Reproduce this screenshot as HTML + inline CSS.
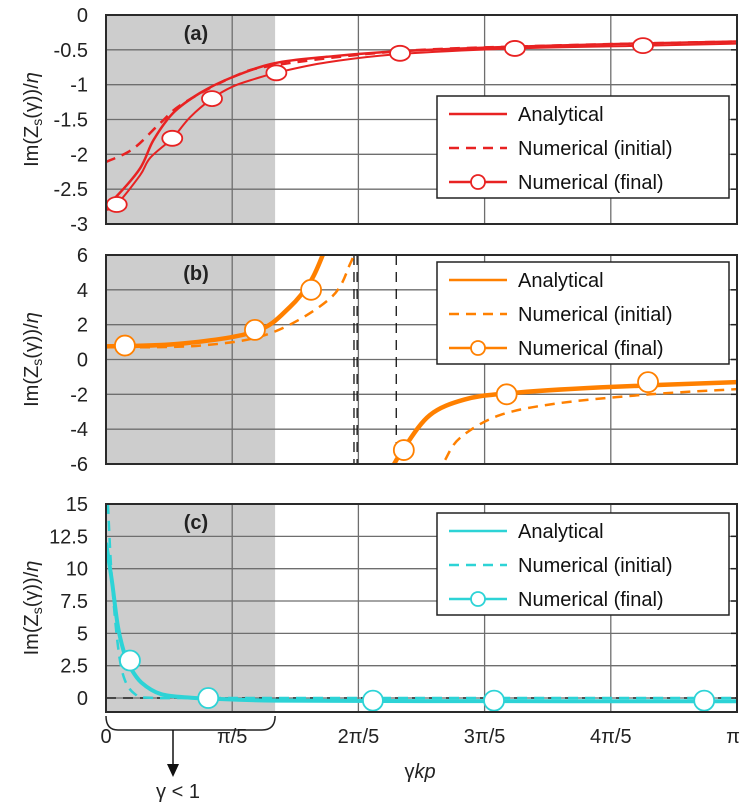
<!DOCTYPE html>
<html><head><meta charset="utf-8"><style>
body{margin:0;background:#fff;}
svg{display:block;font-family:"Liberation Sans",sans-serif;}
</style></head><body>
<svg id="chart" width="747" height="804" viewBox="0 0 747 804"></svg>
<script>
// x in units of pi (0..1)
const xTicks = [0,0.2,0.4,0.6,0.8,1];
const xTickLabels = ["0","π/5","2π/5","3π/5","4π/5","π"];
const shadeEnd = 0.268;

// Panel (a)
const aAnaX = [0,0.017,0.054,0.075,0.106,0.149,0.201,0.268,0.35,0.466,0.7,1];
const aAnaY = [-2.72,-2.6,-2.2,-1.8,-1.41,-1.12,-0.89,-0.69,-0.6,-0.52,-0.44,-0.38];
const aIniX = [0,0.043,0.086,0.122,0.201,0.268,0.466,0.7,1];
const aIniY = [-2.11,-1.92,-1.55,-1.27,-0.89,-0.72,-0.52,-0.44,-0.38];
const aFinX = [0,0.017,0.054,0.07,0.105,0.133,0.168,0.2,0.235,0.27,0.35,0.466,0.648,0.851,1];
const aFinY = [-2.8,-2.72,-2.3,-2.05,-1.77,-1.47,-1.2,-1.03,-0.92,-0.83,-0.68,-0.56,-0.48,-0.44,-0.41];
const aMarkX = [0.017,0.105,0.168,0.27,0.466,0.648,0.851];
const aMarkY = [-2.72,-1.77,-1.2,-0.83,-0.55,-0.48,-0.44];

// Panel (b)
const bAna1X = [0,0.117,0.236,0.291,0.326,0.35];
const bAna1Y = [0.75,0.9,1.6,3.0,4.6,6.6];
const bIni1X = [0,0.149,0.26,0.355,0.387,0.395];
const bIni1Y = [0.7,0.8,1.5,3.5,5.5,6.4];
const bAna2X = [0.452,0.472,0.513,0.568,0.635,0.783,1];
const bAna2Y = [-6.3,-5.1,-3.2,-2.3,-1.95,-1.6,-1.3];
const bIni2X = [0.52,0.535,0.561,0.624,0.72,0.862,1];
const bIni2Y = [-6.5,-5.9,-4.5,-3.2,-2.5,-2.0,-1.7];
const bMarkX = [0.03,0.236,0.325,0.472,0.635,0.859];
const bMarkY = [0.8,1.7,4.0,-5.2,-2.0,-1.3];
const bAsymX = [0.393,0.398,0.46];

// Panel (c)
const cAnaX = [0,0.0095,0.019,0.03,0.038,0.056,0.087,0.135,0.168,0.268,0.5,1];
const cAnaY = [12,9,5.5,3.3,2.4,1.2,0.3,0.02,-0.05,-0.2,-0.24,-0.25];
const cIniX = [0.003,0.0095,0.019,0.029,0.046,0.07,0.2,1];
const cIniY = [15,9,4,1.5,0.3,0.02,0,0];
const cMarkX = [0.038,0.162,0.423,0.615,0.948];
const cMarkY = [2.9,0.0,-0.2,-0.2,-0.2];

const NS="http://www.w3.org/2000/svg";
const svg=document.getElementById('chart');
const L=106,R=737;
function xs(t){return L+t*(R-L);}
function mk(tag,attrs,parent){const e=document.createElementNS(NS,tag);for(const k in attrs)e.setAttribute(k,attrs[k]);(parent||svg).appendChild(e);return e;}
function smooth(px,py){
  let d="M"+px[0].toFixed(1)+","+py[0].toFixed(1);
  for(let i=0;i<px.length-1;i++){
    const x0=px[Math.max(i-1,0)],y0=py[Math.max(i-1,0)],x1=px[i],y1=py[i],x2=px[i+1],y2=py[i+1],x3=px[Math.min(i+2,px.length-1)],y3=py[Math.min(i+2,px.length-1)];
    const c1x=x1+(x2-x0)/6,c1y=y1+(y2-y0)/6,c2x=x2-(x3-x1)/6,c2y=y2-(y3-y1)/6;
    d+=" C"+c1x.toFixed(1)+","+c1y.toFixed(1)+" "+c2x.toFixed(1)+","+c2y.toFixed(1)+" "+x2.toFixed(1)+","+y2.toFixed(1);
  }
  return d;
}
const defs=mk('defs',{});
function panel(id,top,bot,ymin,ymax,yticks,ylabels,letter,color,draw){
  const g=mk('g',{});
  
  
  const ys=v=>bot-(v-ymin)/(ymax-ymin)*(bot-top);
  const cp=mk('clipPath',{id:'clip'+id},defs);
  mk('rect',{x:L,y:top,width:R-L,height:bot-top},cp);
  const sh=mk('rect',{x:L,y:top,width:xs(shadeEnd)-L,height:bot-top,fill:'#cdcdcd'},g);
  
  
  for(let i=1;i<xTicks.length-1;i++){
    const ln=mk('line',{x1:xs(xTicks[i]),x2:xs(xTicks[i]),y1:top,y2:bot,stroke:'#6e6e6e','stroke-width':1.3},g);
    
    
  }
  for(let i=0;i<yticks.length;i++){
    const y=ys(yticks[i]);
    if(i>0&&i<yticks.length-1){
      const ln=mk('line',{x1:L,x2:R,y1:y,y2:y,stroke:'#6e6e6e','stroke-width':1.3},g);
      
      
      mk('line',{x1:R-6,x2:R,y1:y,y2:y,stroke:'#222','stroke-width':1.5},g);
    }
    const t=mk('text',{x:88,y:y+7,'text-anchor':'end','font-size':20,fill:'#222'},g);
    t.textContent=ylabels[i];
    
    
  }
  const yt=mk('text',{transform:`translate(38,${(top+bot)/2}) rotate(-90)`,'text-anchor':'middle','font-size':20,fill:'#222'},g);
  yt.innerHTML='Im(Z<tspan font-size="14" dy="4">s</tspan><tspan dy="-4">(γ))/</tspan><tspan font-style="italic">η</tspan>';
  
  
  const lt=mk('text',{x:196,y:top+25,'text-anchor':'middle','font-size':20,'font-weight':'bold',fill:'#222'},g);
  lt.textContent='('+letter+')';
  
  
  const cg=mk('g',{'clip-path':`url(#clip${id})`},g);
  draw(cg,ys);
  const fr=mk('rect',{x:L,y:top,width:R-L,height:bot-top,fill:'none',stroke:'#2a2a2a','stroke-width':2},g);
  
  
  return g;
}
function curve(g,xa,ya,ys,color,w,dash,name){
  const p=mk('path',{d:smooth(xa.map(xs),ya.map(ys)),fill:'none',stroke:color,'stroke-width':w,'stroke-dasharray':dash||'none'},g);
  
  
}
function marks(g,xa,ya,ys,color,rx,ry){
  for(let i=0;i<xa.length;i++){
    const c=mk('ellipse',{cx:xs(xa[i]),cy:ys(ya[i]),rx:rx,ry:ry,fill:'#fff',stroke:color,'stroke-width':1.8},g);
    
    
  }
}
function legend(x,y,color){
  const g=mk('g',{});
  
  
  mk('rect',{x:x,y:y,width:292,height:102,fill:'#fff',stroke:'#222','stroke-width':1.5},g);
  const rows=['Analytical','Numerical (initial)','Numerical (final)'];
  rows.forEach((r,i)=>{
    const yy=y+18+i*34;
    const ln=mk('line',{x1:x+12,x2:x+70,y1:yy,y2:yy,stroke:color,'stroke-width':2.5,'stroke-dasharray':i==1?'10,7':'none'},g);
    
    
    if(i==2)mk('circle',{cx:x+41,cy:yy,r:7,fill:'#fff',stroke:color,'stroke-width':1.8},g);
    const t=mk('text',{x:x+81,y:yy+7,'font-size':20,fill:'#111'},g);
    t.textContent=r;
    
    
  });
}
const red='#e82222',orange='#ff8000',cyan='#2dd3d6';
panel('a',15,224,-3,0,[-3,-2.5,-2,-1.5,-1,-0.5,0],['-3','-2.5','-2','-1.5','-1','-0.5','0'],'a',red,(g,ys)=>{
  curve(g,aIniX,aIniY,ys,red,2.5,'10,7','initial-curve');
  curve(g,aAnaX,aAnaY,ys,red,2.5,null,'analytical-curve');
  curve(g,aFinX,aFinY,ys,red,2,null,'final-curve');
  marks(g,aMarkX,aMarkY,ys,red,10,7.5);
});
legend(437,96,red);
panel('b',255,464,-6,6,[-6,-4,-2,0,2,4,6],['-6','-4','-2','0','2','4','6'],'b',orange,(g,ys)=>{
  bAsymX.forEach(a=>{const ln=mk('line',{x1:xs(a),x2:xs(a),y1:255,y2:464,stroke:'#111','stroke-width':1.3,'stroke-dasharray':'10,7'},g);
    });
  curve(g,bIni1X,bIni1Y,ys,orange,2.5,'10,7','initial-curve');
  curve(g,bIni2X,bIni2Y,ys,orange,2.5,'10,7','initial-curve');
  curve(g,bAna1X,bAna1Y,ys,orange,4.5,null,'analytical-curve');
  curve(g,bAna2X,bAna2Y,ys,orange,4.5,null,'analytical-curve');
  marks(g,bMarkX,bMarkY,ys,orange,10,10);
});
legend(437,262,orange);
panel('c',504,712,-1.08,15,[-1.08,0,2.5,5,7.5,10,12.5,15],['','0','2.5','5','7.5','10','12.5','15'],'c',cyan,(g,ys)=>{
  const z=mk('line',{x1:L,x2:R,y1:ys(0),y2:ys(0),stroke:'#222','stroke-width':1.5,'stroke-dasharray':'10,7'},g);
  
  curve(g,cIniX,cIniY,ys,cyan,2.5,'10,7','initial-curve');
  curve(g,cAnaX,cAnaY,ys,cyan,4,null,'analytical-curve');
  marks(g,cMarkX,cMarkY,ys,cyan,10,10);
});
legend(437,513,cyan);
// x tick labels
xTicks.forEach((t,i)=>{
  const tx=mk('text',{x:xs(t)+(i==5?-4:0),y:743,'text-anchor':'middle','font-size':20,fill:'#222'});
  tx.textContent=xTickLabels[i];
  
  
});
const xt=mk('text',{x:420,y:778,'text-anchor':'middle','font-size':20,fill:'#222'});
xt.innerHTML='γ<tspan font-style="italic">kp</tspan>';


// brace
const br=mk('path',{d:`M${L},716 Q${L},730 118,730 L262,730 Q${xs(shadeEnd)},730 ${xs(shadeEnd)},716`,fill:'none',stroke:'#222','stroke-width':1.5});


mk('line',{x1:173,x2:173,y1:730,y2:770,stroke:'#111','stroke-width':1.5});
mk('path',{d:'M167,764 L179,764 L173,777 Z',fill:'#111'});
const gl=mk('text',{x:178,y:798,'text-anchor':'middle','font-size':20,fill:'#222'});
gl.textContent='γ < 1';


</script>
</body></html>
